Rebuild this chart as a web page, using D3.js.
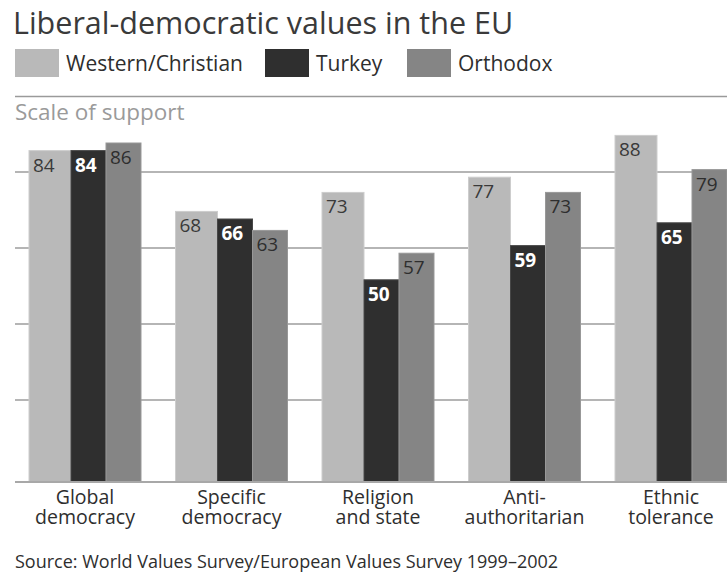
<!DOCTYPE html>
<html>
<head>
<meta charset="utf-8">
<script src="https://cdn.jsdelivr.net/npm/d3@7/dist/d3.min.js"></script>
<style>
  html, body { margin: 0; padding: 0; background: #fff; }
  svg { display: block; }
  text { font-family: "Open Sans", "Noto Sans", sans-serif; }
</style>
</head>
<body>
<svg id="chart" width="727" height="574"></svg>
<script>
// Categories (two-line labels) and series values
const categories = ["Global democracy", "Specific democracy", "Religion and state", "Anti-authoritarian", "Ethnic tolerance"];
const categoryLines = [["Global", "democracy"], ["Specific", "democracy"], ["Religion", "and state"], ["Anti-", "authoritarian"], ["Ethnic", "tolerance"]];
const seriesNames = ["Western/Christian", "Turkey", "Orthodox"];
const westernValues = [84, 68, 73, 77, 88];
const turkeyValues = [84, 66, 50, 59, 65];
const orthodoxValues = [86, 63, 57, 73, 79];
const gridTicks = [18.4, 38.4, 58.4, 78.4];

const seriesValues = [westernValues, turkeyValues, orthodoxValues];
const seriesFill = ["#b9b9b9", "#2f2f2f", "#858585"];
const seriesStroke = ["#cdcdcd", "#474747", "#989898"];
const seriesLabelFill = ["#3a3a3a", "#ffffff", "#2e2e2e"];
const seriesLabelWeight = [400, 700, 400];
const seriesShare = [42, 35, 35]; // relative bar widths within a group

const svg = d3.select("#chart");
const W = 727;

// Title
svg.append("text").attr("x", 13).attr("y", 34)
  .attr("font-size", 30.5).attr("fill", "#3a3a3a")
  .text("Liberal-democratic values in the EU");

// Legend
const legendX = [15, 265, 407];
seriesNames.forEach((name, i) => {
  const g = svg.append("g").attr("transform", `translate(${legendX[i]},49)`);
  g.append("rect").attr("width", 44).attr("height", 28).attr("fill", seriesFill[i]);
  g.append("text").attr("x", 51).attr("y", 22).attr("font-size", 21).attr("fill", "#2e2e2e").text(name);
});

// Rule and axis caption
svg.append("line").attr("x1", 15).attr("x2", W).attr("y1", 96.5).attr("y2", 96.5)
  .attr("stroke", "#9a9a9a").attr("stroke-width", 1.6);
svg.append("text").attr("x", 15).attr("y", 120).attr("font-size", 22.5).attr("fill", "#9a9a9a")
  .text("Scale of support");

// Scales
const x0 = d3.scaleBand().domain(categories).range([29, W]).paddingInner(0.2355).paddingOuter(0);
const y = d3.scaleLinear().domain([-3.2, 90]).range([482, 127.8]);
const shareTotal = d3.sum(seriesShare);
const offsets = seriesShare.map((s, i) => d3.sum(seriesShare.slice(0, i)) / shareTotal);
const widths = seriesShare.map(s => s / shareTotal);

// Gridlines (behind bars)
svg.append("g").selectAll("line").data(gridTicks).join("line")
  .attr("x1", 15).attr("x2", W)
  .attr("y1", d => y(d)).attr("y2", d => y(d))
  .attr("stroke", "#b5b5b5").attr("stroke-width", 2);

// Bars
const groups = svg.append("g").selectAll("g").data(categories).join("g")
  .attr("transform", d => `translate(${x0(d)},0)`);

seriesValues.forEach((vals, s) => {
  groups.append("rect")
    .attr("x", () => offsets[s] * x0.bandwidth())
    .attr("width", widths[s] * x0.bandwidth())
    .attr("y", (d, i) => y(vals[i]))
    .attr("height", (d, i) => y(-3.2) - y(vals[i]))
    .attr("fill", seriesFill[s])
    .attr("stroke", seriesStroke[s]).attr("stroke-width", 1);

  groups.append("text")
    .attr("x", () => offsets[s] * x0.bandwidth() + 4)
    .attr("y", (d, i) => y(vals[i]) + 21)
    .attr("font-size", 19)
    .attr("font-weight", seriesLabelWeight[s])
    .attr("fill", seriesLabelFill[s])
    .text((d, i) => vals[i]);
});

// Baseline
svg.append("line").attr("x1", 15).attr("x2", W).attr("y1", y(-3.2)).attr("y2", y(-3.2))
  .attr("stroke", "#a8a8a8").attr("stroke-width", 2);

// Category labels
groups.each(function(d, i) {
  const t = d3.select(this).append("text")
    .attr("text-anchor", "middle")
    .attr("font-size", 19.5).attr("fill", "#2e2e2e");
  categoryLines[i].forEach((line, k) => {
    t.append("tspan").attr("x", x0.bandwidth() / 2).attr("y", 504 + k * 20).text(line);
  });
});

// Source note
svg.append("text").attr("x", 15).attr("y", 568).attr("font-size", 18).attr("fill", "#2e2e2e")
  .text("Source: World Values Survey/European Values Survey 1999–2002");
</script>
</body>
</html>
